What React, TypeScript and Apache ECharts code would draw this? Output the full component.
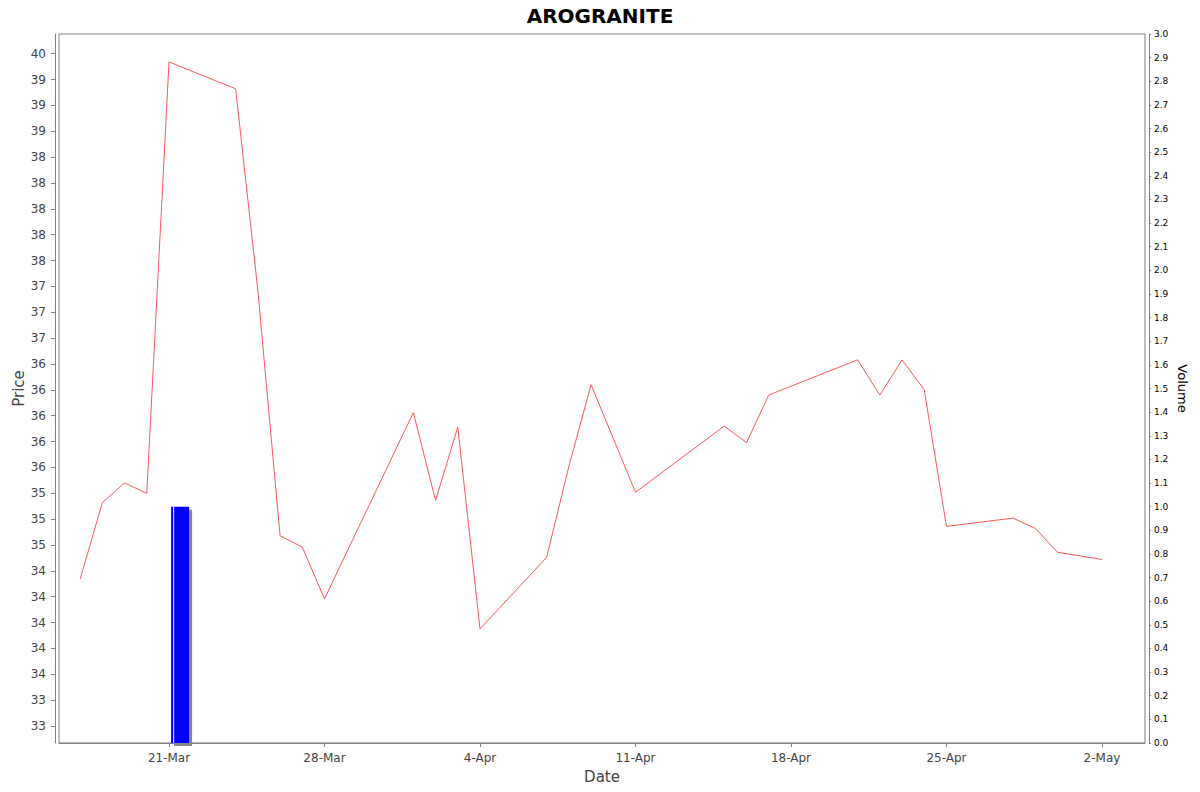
import { useEffect, useRef } from "react";
import * as echarts from "echarts";

const TITLE = "AROGRANITE";

// trading days and closing prices
const priceDates = [
  "2025-03-17", "2025-03-18", "2025-03-19", "2025-03-20", "2025-03-21",
  "2025-03-24", "2025-03-25", "2025-03-26", "2025-03-27", "2025-03-28",
  "2025-04-01", "2025-04-02", "2025-04-03", "2025-04-04", "2025-04-07",
  "2025-04-08", "2025-04-09", "2025-04-11", "2025-04-15", "2025-04-16",
  "2025-04-17", "2025-04-21", "2025-04-22", "2025-04-23", "2025-04-24",
  "2025-04-25", "2025-04-28", "2025-04-29", "2025-04-30", "2025-05-02",
];
const prices = [
  34.42, 35.16, 35.35, 35.25, 39.42,
  39.16, 37.21, 34.84, 34.73, 34.23,
  36.03, 35.18, 35.89, 33.94, 34.63,
  35.51, 36.3, 35.26, 35.9, 35.74,
  36.2, 36.54, 36.2, 36.54, 36.25,
  34.93, 35.01, 34.91, 34.68, 34.61,
];

// volume bars (one trading day each)
const volumeDates = ["2025-03-21"];
const volumes = [1.0];

// axis ticks
const dateTicks = ["2025-03-21", "2025-03-28", "2025-04-04", "2025-04-11", "2025-04-18", "2025-04-25", "2025-05-02"];
const priceTicks = [
  33, 33.25, 33.5, 33.75, 34, 34.25, 34.5, 34.75, 35, 35.25, 35.5, 35.75, 36, 36.25,
  36.5, 36.75, 37, 37.25, 37.5, 37.75, 38, 38.25, 38.5, 38.75, 39, 39.25, 39.5,
];
const MONTHS = ["Jan", "Feb", "Mar", "Apr", "May", "Jun", "Jul", "Aug", "Sep", "Oct", "Nov", "Dec"];

const FONT = "DejaVu Sans";
const DAY = 86400000;

const ts = (s: string) => {
  const [y, m, d] = s.split("-").map(Number);
  return new Date(y, m - 1, d).getTime();
};

// java DecimalFormat("0") rounds half-even
const halfEven = (v: number) => {
  const f = Math.floor(v + 1e-9);
  const d = v - f;
  if (d > 0.5 + 1e-9) return f + 1;
  if (d < 0.5 - 1e-9) return f;
  return f % 2 === 0 ? f : f + 1;
};

export default function App() {
  const ref = useRef<HTMLDivElement>(null);

  useEffect(() => {
    document.body.style.margin = "0";
    if (!ref.current) return;
    const chart = echarts.init(ref.current, null, { renderer: "svg" });

    const xMin = ts("2025-03-21") - 4.952 * DAY;
    const xMax = ts("2025-03-21") + 43.937 * DAY;
    const xTicks = dateTicks.map(ts);

    chart.setOption({
      animation: false,
      backgroundColor: "#ffffff",
      title: {
        text: TITLE,
        left: "center",
        top: 1,
        textStyle: { fontFamily: FONT, fontSize: 20, fontWeight: "bold", color: "#000" },
      },
      grid: {
        left: 59,
        right: 55,
        top: 34,
        bottom: 49,
        show: true,
        borderColor: "#808080",
        borderWidth: 1,
        backgroundColor: "#ffffff",
        outerBoundsMode: "none",
      },
      xAxis: {
        type: "value",
        min: xMin,
        max: xMax,
        offset: 4,
        name: "Date",
        nameLocation: "middle",
        nameGap: 22,
        nameMoveOverlap: false,
        nameTextStyle: { fontFamily: FONT, fontSize: 15, color: "#444" },
        axisLine: { show: true, lineStyle: { color: "#808080", width: 1 } },
        axisTick: {
          show: true,
          length: 4,
          lineStyle: { color: "#808080" },
          customValues: xTicks,
        },
        axisLabel: {
          fontFamily: FONT,
          fontSize: 12,
          color: "#444",
          margin: 5,
          customValues: xTicks,
          formatter: (v: number) => {
            const d = new Date(v);
            return `${d.getDate()}-${MONTHS[d.getMonth()]}`;
          },
        },
        splitLine: { show: false },
      },
      yAxis: [
        {
          type: "value",
          position: "left",
          min: 32.836,
          max: 39.69,
          offset: 4,
          name: "Price",
          nameLocation: "middle",
          nameRotate: 90,
          nameGap: 29,
          nameMoveOverlap: false,
          nameTextStyle: { fontFamily: FONT, fontSize: 15, color: "#444" },
          axisLine: { show: true, lineStyle: { color: "#808080", width: 1 } },
          axisTick: { show: true, length: 4, lineStyle: { color: "#808080" }, customValues: priceTicks },
          axisLabel: {
            fontFamily: FONT,
            fontSize: 12,
            color: "#444",
            margin: 9,
            customValues: priceTicks,
            formatter: (v: number) => String(halfEven(v)),
          },
          splitLine: { show: false },
        },
        {
          type: "value",
          position: "right",
          min: 0,
          max: 3,
          interval: 0.1,
          offset: 4,
          name: "Volume",
          nameLocation: "middle",
          nameRotate: -90,
          nameGap: 27,
          nameMoveOverlap: false,
          nameTextStyle: { fontFamily: FONT, fontSize: 13, color: "#000" },
          axisLine: { show: true, lineStyle: { color: "#808080", width: 1 } },
          axisTick: { show: true, length: 2, lineStyle: { color: "#808080" } },
          axisLabel: {
            fontFamily: FONT,
            fontSize: 9,
            color: "#000",
            margin: 5,
            formatter: (v: number) => v.toFixed(1),
          },
          splitLine: { show: false },
        },
      ],
      series: [
        {
          type: "bar",
          yAxisIndex: 1,
          barWidth: 18,
          data: volumeDates.map((d, i) => [ts(d) + DAY / 2, volumes[i]]),
          itemStyle: {
            color: {
              type: "linear",
              x: 0, y: 0, x2: 1, y2: 0,
              colorStops: [
                { offset: 0, color: "#0000ff" },
                { offset: 0.1, color: "#0000ff" },
                { offset: 0.11, color: "#d8d8ff" },
                { offset: 0.18, color: "#d8d8ff" },
                { offset: 0.19, color: "#0000ff" },
                { offset: 1, color: "#0000ff" },
              ],
            },
            shadowColor: "#888888",
            shadowOffsetX: 3,
            shadowOffsetY: 3,
            shadowBlur: 0,
          },
          z: 1,
        },
        {
          type: "line",
          yAxisIndex: 0,
          data: priceDates.map((d, i) => [ts(d), prices[i]]),
          symbol: "none",
          lineStyle: { color: "#ff5555", width: 1 },
          z: 2,
        },
      ],
    });

    return () => chart.dispose();
  }, []);

  return <div ref={ref} style={{ width: 1200, height: 792 }} />;
}
